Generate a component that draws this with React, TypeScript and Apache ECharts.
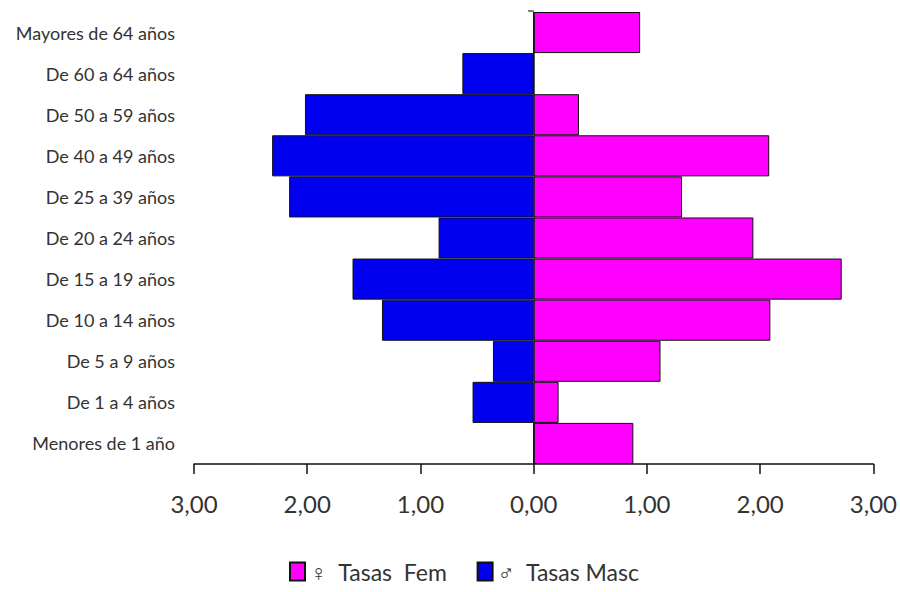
import React, { useEffect, useRef } from "react";
import * as echarts from "echarts";

const categories = ["Menores de 1 año","De 1 a 4 años","De 5 a 9 años","De 10 a 14 años","De 15 a 19 años","De 20 a 24 años","De 25 a 39 años","De 40 a 49 años","De 50 a 59 años","De 60 a 64 años","Mayores de 64 años"];
const fem = [0.88,0.22,1.12,2.09,2.72,1.94,1.31,2.08,0.40,0,0.94];
const masc = [0,0.54,0.36,1.34,1.60,0.84,2.16,2.31,2.02,0.63,0];
const ticks = ["3,00","2,00","1,00","0,00","1,00","2,00","3,00"];

export default function App() {
  const ref = useRef<HTMLDivElement>(null);
  useEffect(() => {
    const chart = echarts.init(ref.current!, null, { renderer: "svg" });
    const font = "Lato, 'Noto Sans', sans-serif";
    chart.setOption({
      animation: false,
      backgroundColor: "#fff",
      grid: { left: 194, right: 26, top: 12, bottom: 128 },
      legend: {
        top: 555, left: 284, itemWidth: 15, itemHeight: 18, itemGap: 29,
        icon: "rect",
        textStyle: { fontSize: 23, color: "#333", fontFamily: font },
        data: ["♀  Tasas  Fem", "♂  Tasas Masc"],
      },
      xAxis: {
        type: "value", min: -3, max: 3, interval: 1,
        splitLine: { show: false },
        axisLine: { show: true, onZero: false, lineStyle: { color: "#111", width: 1.5 } },
        axisTick: { show: true, inside: false, length: 10, lineStyle: { color: "#111", width: 1.5 } },
        axisLabel: { fontSize: 24, color: "#333", margin: 27, fontFamily: font,
          formatter: (v: number) => ticks[Math.round(v) + 3] },
      },
      yAxis: {
        type: "category", data: categories, position: "left",
        axisLine: { show: false }, axisTick: { show: false },
        axisLabel: { fontSize: 18, color: "#333", margin: 19, fontFamily: font },
      },
      series: [
        { name: "♀  Tasas  Fem", type: "bar", stack: "a", barWidth: "100%", data: fem,
          itemStyle: { color: "#FF00FF", borderColor: "#111", borderWidth: 1 } },
        { name: "♂  Tasas Masc", type: "bar", stack: "b", barGap: "-100%", barWidth: "100%",
          data: masc.map((v) => -v),
          itemStyle: { color: "#0000EE", borderColor: "#111", borderWidth: 1 } },
      ],
      graphic: [
        { type: "line", shape: { x1: 534, y1: 12, x2: 534, y2: 464 }, style: { stroke: "#000", lineWidth: 1 } },
        { type: "line", shape: { x1: 528, y1: 11, x2: 534, y2: 11 }, style: { stroke: "#000", lineWidth: 1 } },
      ],
    });
    return () => chart.dispose();
  }, []);
  return <div ref={ref} style={{ position: "absolute", left: 0, top: 0, width: 900, height: 592 }} />;
}
